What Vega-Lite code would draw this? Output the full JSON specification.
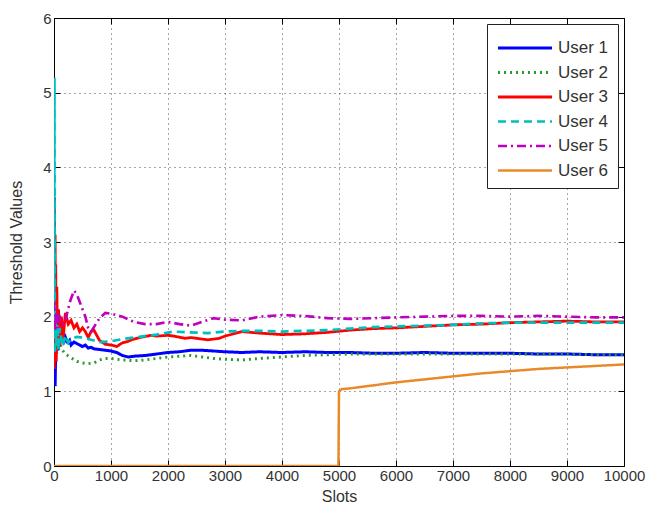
{
  "$schema": "https://vega.github.io/schema/vega-lite/v6.json",
  "width": 570,
  "height": 448,
  "autosize": "none",
  "padding": {"left": 54, "top": 18, "right": 22, "bottom": 50},
  "background": "white",
  "config": {
    "font": "Liberation Sans",
    "view": {"stroke": "black", "strokeWidth": 1},
    "axis": {"labelFont": "Liberation Sans", "titleFont": "Liberation Sans", "labelFontSize": 15, "titleFontSize": 16, "titleFontWeight": "normal", "labelColor": "#333", "titleColor": "#333", "domainColor": "black", "tickColor": "black", "gridColor": "#222", "gridDash": [1, 4], "gridOpacity": 0.8, "tickSize": -6}
  },
  "data": {"values": [
    {"u":"User 1","x":0,"y":1.3},{"u":"User 1","x":10,"y":1.9},{"u":"User 1","x":20,"y":1.07},{"u":"User 1","x":30,"y":1.6},{"u":"User 1","x":40,"y":1.5},{"u":"User 1","x":50,"y":2.0},{"u":"User 1","x":60,"y":1.8},{"u":"User 1","x":70,"y":1.55},{"u":"User 1","x":80,"y":1.6},{"u":"User 1","x":90,"y":1.85},{"u":"User 1","x":100,"y":1.9},{"u":"User 1","x":115,"y":1.75},{"u":"User 1","x":130,"y":1.7},{"u":"User 1","x":145,"y":1.8},{"u":"User 1","x":160,"y":1.76},{"u":"User 1","x":180,"y":1.68},{"u":"User 1","x":200,"y":1.72},{"u":"User 1","x":225,"y":1.66},{"u":"User 1","x":250,"y":1.65},{"u":"User 1","x":275,"y":1.68},{"u":"User 1","x":300,"y":1.62},{"u":"User 1","x":350,"y":1.66},{"u":"User 1","x":400,"y":1.64},{"u":"User 1","x":450,"y":1.62},{"u":"User 1","x":500,"y":1.6},{"u":"User 1","x":550,"y":1.62},{"u":"User 1","x":600,"y":1.58},{"u":"User 1","x":650,"y":1.59},{"u":"User 1","x":700,"y":1.57},{"u":"User 1","x":800,"y":1.56},{"u":"User 1","x":900,"y":1.55},{"u":"User 1","x":1000,"y":1.54},{"u":"User 1","x":1100,"y":1.52},{"u":"User 1","x":1200,"y":1.48},{"u":"User 1","x":1300,"y":1.46},{"u":"User 1","x":1400,"y":1.47},{"u":"User 1","x":1600,"y":1.48},{"u":"User 1","x":1800,"y":1.5},{"u":"User 1","x":2000,"y":1.52},{"u":"User 1","x":2200,"y":1.53},{"u":"User 1","x":2400,"y":1.55},{"u":"User 1","x":2600,"y":1.55},{"u":"User 1","x":2800,"y":1.54},{"u":"User 1","x":3000,"y":1.53},{"u":"User 1","x":3300,"y":1.52},{"u":"User 1","x":3600,"y":1.53},{"u":"User 1","x":4000,"y":1.52},{"u":"User 1","x":4400,"y":1.53},{"u":"User 1","x":4800,"y":1.52},{"u":"User 1","x":5200,"y":1.52},{"u":"User 1","x":5600,"y":1.51},{"u":"User 1","x":6000,"y":1.51},{"u":"User 1","x":6500,"y":1.52},{"u":"User 1","x":7000,"y":1.51},{"u":"User 1","x":7500,"y":1.51},{"u":"User 1","x":8000,"y":1.51},{"u":"User 1","x":8500,"y":1.5},{"u":"User 1","x":9000,"y":1.5},{"u":"User 1","x":9500,"y":1.49},{"u":"User 1","x":10000,"y":1.49},
    {"u":"User 2","x":0,"y":1.5},{"u":"User 2","x":15,"y":1.9},{"u":"User 2","x":30,"y":1.75},{"u":"User 2","x":45,"y":1.5},{"u":"User 2","x":60,"y":1.6},{"u":"User 2","x":80,"y":1.72},{"u":"User 2","x":100,"y":1.65},{"u":"User 2","x":150,"y":1.55},{"u":"User 2","x":200,"y":1.5},{"u":"User 2","x":300,"y":1.45},{"u":"User 2","x":400,"y":1.4},{"u":"User 2","x":500,"y":1.38},{"u":"User 2","x":600,"y":1.37},{"u":"User 2","x":700,"y":1.38},{"u":"User 2","x":800,"y":1.42},{"u":"User 2","x":900,"y":1.44},{"u":"User 2","x":1000,"y":1.44},{"u":"User 2","x":1200,"y":1.42},{"u":"User 2","x":1400,"y":1.41},{"u":"User 2","x":1600,"y":1.42},{"u":"User 2","x":1800,"y":1.44},{"u":"User 2","x":2000,"y":1.46},{"u":"User 2","x":2200,"y":1.47},{"u":"User 2","x":2400,"y":1.48},{"u":"User 2","x":2600,"y":1.46},{"u":"User 2","x":2800,"y":1.44},{"u":"User 2","x":3000,"y":1.43},{"u":"User 2","x":3300,"y":1.42},{"u":"User 2","x":3600,"y":1.44},{"u":"User 2","x":4000,"y":1.46},{"u":"User 2","x":4400,"y":1.48},{"u":"User 2","x":4800,"y":1.49},{"u":"User 2","x":5200,"y":1.5},{"u":"User 2","x":5600,"y":1.5},{"u":"User 2","x":6000,"y":1.5},{"u":"User 2","x":6500,"y":1.5},{"u":"User 2","x":7000,"y":1.5},{"u":"User 2","x":7500,"y":1.5},{"u":"User 2","x":8000,"y":1.5},{"u":"User 2","x":8500,"y":1.5},{"u":"User 2","x":9000,"y":1.5},{"u":"User 2","x":9500,"y":1.49},{"u":"User 2","x":10000,"y":1.49},
    {"u":"User 3","x":0,"y":2.0},{"u":"User 3","x":5,"y":1.3},{"u":"User 3","x":10,"y":3.6},{"u":"User 3","x":15,"y":1.4},{"u":"User 3","x":20,"y":3.1},{"u":"User 3","x":25,"y":1.5},{"u":"User 3","x":30,"y":2.7},{"u":"User 3","x":40,"y":1.4},{"u":"User 3","x":50,"y":2.4},{"u":"User 3","x":60,"y":1.6},{"u":"User 3","x":80,"y":2.1},{"u":"User 3","x":100,"y":1.6},{"u":"User 3","x":130,"y":2.0},{"u":"User 3","x":160,"y":1.7},{"u":"User 3","x":200,"y":2.05},{"u":"User 3","x":250,"y":1.9},{"u":"User 3","x":300,"y":1.95},{"u":"User 3","x":350,"y":1.85},{"u":"User 3","x":400,"y":1.9},{"u":"User 3","x":450,"y":1.8},{"u":"User 3","x":500,"y":1.85},{"u":"User 3","x":550,"y":1.8},{"u":"User 3","x":600,"y":1.72},{"u":"User 3","x":650,"y":1.8},{"u":"User 3","x":700,"y":1.82},{"u":"User 3","x":750,"y":1.75},{"u":"User 3","x":800,"y":1.68},{"u":"User 3","x":900,"y":1.63},{"u":"User 3","x":1000,"y":1.62},{"u":"User 3","x":1100,"y":1.6},{"u":"User 3","x":1200,"y":1.65},{"u":"User 3","x":1300,"y":1.67},{"u":"User 3","x":1400,"y":1.7},{"u":"User 3","x":1500,"y":1.72},{"u":"User 3","x":1700,"y":1.75},{"u":"User 3","x":1800,"y":1.74},{"u":"User 3","x":2000,"y":1.75},{"u":"User 3","x":2100,"y":1.74},{"u":"User 3","x":2300,"y":1.71},{"u":"User 3","x":2400,"y":1.72},{"u":"User 3","x":2600,"y":1.7},{"u":"User 3","x":2700,"y":1.69},{"u":"User 3","x":2900,"y":1.71},{"u":"User 3","x":3000,"y":1.74},{"u":"User 3","x":3300,"y":1.8},{"u":"User 3","x":3600,"y":1.78},{"u":"User 3","x":4000,"y":1.76},{"u":"User 3","x":4400,"y":1.77},{"u":"User 3","x":4800,"y":1.79},{"u":"User 3","x":5200,"y":1.82},{"u":"User 3","x":5600,"y":1.84},{"u":"User 3","x":6000,"y":1.85},{"u":"User 3","x":6500,"y":1.87},{"u":"User 3","x":7000,"y":1.89},{"u":"User 3","x":7500,"y":1.9},{"u":"User 3","x":8000,"y":1.92},{"u":"User 3","x":8500,"y":1.93},{"u":"User 3","x":9000,"y":1.94},{"u":"User 3","x":9500,"y":1.93},{"u":"User 3","x":10000,"y":1.93},
    {"u":"User 4","x":0,"y":1.8},{"u":"User 4","x":8,"y":5.2},{"u":"User 4","x":15,"y":1.5},{"u":"User 4","x":25,"y":2.0},{"u":"User 4","x":40,"y":1.6},{"u":"User 4","x":60,"y":1.9},{"u":"User 4","x":80,"y":1.55},{"u":"User 4","x":100,"y":1.85},{"u":"User 4","x":150,"y":1.6},{"u":"User 4","x":200,"y":1.75},{"u":"User 4","x":250,"y":1.65},{"u":"User 4","x":300,"y":1.7},{"u":"User 4","x":400,"y":1.73},{"u":"User 4","x":500,"y":1.72},{"u":"User 4","x":600,"y":1.7},{"u":"User 4","x":700,"y":1.68},{"u":"User 4","x":800,"y":1.66},{"u":"User 4","x":1000,"y":1.67},{"u":"User 4","x":1200,"y":1.7},{"u":"User 4","x":1500,"y":1.73},{"u":"User 4","x":1800,"y":1.76},{"u":"User 4","x":2100,"y":1.8},{"u":"User 4","x":2400,"y":1.79},{"u":"User 4","x":2700,"y":1.78},{"u":"User 4","x":3000,"y":1.8},{"u":"User 4","x":3300,"y":1.81},{"u":"User 4","x":3600,"y":1.81},{"u":"User 4","x":4000,"y":1.8},{"u":"User 4","x":4400,"y":1.81},{"u":"User 4","x":4800,"y":1.82},{"u":"User 4","x":5200,"y":1.84},{"u":"User 4","x":5600,"y":1.86},{"u":"User 4","x":6000,"y":1.87},{"u":"User 4","x":6500,"y":1.88},{"u":"User 4","x":7000,"y":1.89},{"u":"User 4","x":7500,"y":1.91},{"u":"User 4","x":8000,"y":1.92},{"u":"User 4","x":8500,"y":1.92},{"u":"User 4","x":9000,"y":1.92},{"u":"User 4","x":9500,"y":1.92},{"u":"User 4","x":10000,"y":1.92},
    {"u":"User 5","x":0,"y":2.2},{"u":"User 5","x":20,"y":1.8},{"u":"User 5","x":40,"y":2.1},{"u":"User 5","x":60,"y":1.85},{"u":"User 5","x":100,"y":2.0},{"u":"User 5","x":150,"y":1.9},{"u":"User 5","x":200,"y":1.95},{"u":"User 5","x":280,"y":2.2},{"u":"User 5","x":350,"y":2.35},{"u":"User 5","x":400,"y":2.3},{"u":"User 5","x":450,"y":2.2},{"u":"User 5","x":500,"y":2.1},{"u":"User 5","x":550,"y":2.0},{"u":"User 5","x":600,"y":1.85},{"u":"User 5","x":650,"y":1.8},{"u":"User 5","x":700,"y":1.86},{"u":"User 5","x":800,"y":1.98},{"u":"User 5","x":900,"y":2.05},{"u":"User 5","x":1000,"y":2.04},{"u":"User 5","x":1200,"y":2.0},{"u":"User 5","x":1400,"y":1.93},{"u":"User 5","x":1600,"y":1.9},{"u":"User 5","x":1800,"y":1.9},{"u":"User 5","x":2000,"y":1.93},{"u":"User 5","x":2200,"y":1.9},{"u":"User 5","x":2400,"y":1.88},{"u":"User 5","x":2600,"y":1.93},{"u":"User 5","x":2800,"y":1.98},{"u":"User 5","x":3000,"y":1.96},{"u":"User 5","x":3300,"y":1.95},{"u":"User 5","x":3600,"y":2.0},{"u":"User 5","x":4000,"y":2.02},{"u":"User 5","x":4400,"y":2.01},{"u":"User 5","x":4800,"y":1.98},{"u":"User 5","x":5200,"y":1.97},{"u":"User 5","x":5600,"y":1.98},{"u":"User 5","x":6000,"y":1.99},{"u":"User 5","x":6500,"y":2.0},{"u":"User 5","x":7000,"y":2.01},{"u":"User 5","x":7500,"y":2.01},{"u":"User 5","x":8000,"y":2.0},{"u":"User 5","x":8500,"y":2.01},{"u":"User 5","x":9000,"y":2.0},{"u":"User 5","x":9500,"y":1.99},{"u":"User 5","x":10000,"y":1.99},
    {"u":"User 6","x":0,"y":0},{"u":"User 6","x":4990,"y":0},{"u":"User 6","x":5000,"y":1.0},{"u":"User 6","x":5050,"y":1.03},{"u":"User 6","x":5200,"y":1.04},{"u":"User 6","x":5500,"y":1.07},{"u":"User 6","x":6000,"y":1.12},{"u":"User 6","x":6500,"y":1.16},{"u":"User 6","x":7000,"y":1.2},{"u":"User 6","x":7500,"y":1.24},{"u":"User 6","x":8000,"y":1.27},{"u":"User 6","x":8500,"y":1.3},{"u":"User 6","x":9000,"y":1.32},{"u":"User 6","x":9500,"y":1.34},{"u":"User 6","x":10000,"y":1.36}
  ]},
  "resolve": {"scale": {"x": "independent", "y": "independent"}},
  "layer": [
    {
      "mark": {"type": "line", "clip": true},
      "encoding": {
        "x": {"field": "x", "type": "quantitative", "scale": {"domain": [0, 10000], "nice": false}, "axis": {"title": "Slots", "values": [0,1000,2000,3000,4000,5000,6000,7000,8000,9000,10000], "format": "d", "labelPadding": 8, "titlePadding": 5, "labelFlush": false}},
        "y": {"field": "y", "type": "quantitative", "scale": {"domain": [0, 6], "nice": false}, "axis": {"title": "Threshold Values", "values": [0,1,2,3,4,5,6], "labelPadding": 9, "titlePadding": 18, "labelFlush": false}},
        "color": {"field": "u", "type": "nominal", "scale": {"domain": ["User 1","User 2","User 3","User 4","User 5","User 6"], "range": ["#0000ff","#2a9a2a","#ff0000","#00bfbf","#bf00bf","#e98a2a"]},
          "legend": {"title": null, "orient": "top-right", "offset": 6, "strokeColor": "#222", "fillColor": "white", "padding": 9, "symbolType": "M-2,0H2", "symbolSize": 729, "symbolOffset": 14, "symbolStrokeWidth": 2.5, "labelFontSize": 17, "labelColor": "#333", "rowPadding": 1.5, "labelOffset": 18, "labelFont": "Liberation Sans"}},
        "strokeDash": {"field": "u", "type": "nominal", "scale": {"domain": ["User 1","User 2","User 3","User 4","User 5","User 6"], "range": [[1,0],[2,4],[1,0],[8,5],[9,4,2,4],[1,0]]}},
        "strokeWidth": {"field": "u", "type": "nominal", "scale": {"domain": ["User 1","User 2","User 3","User 4","User 5","User 6"], "range": [3,2.5,4.5,2.5,2.5,4]}, "legend": null}
      }
    },
    {
      "mark": {"type": "line", "opacity": 0},
      "encoding": {
        "x": {"field": "x", "type": "quantitative", "scale": {"domain": [0, 10000], "nice": false}, "axis": {"orient": "top", "title": null, "labels": false, "grid": false, "values": [0,1000,2000,3000,4000,5000,6000,7000,8000,9000,10000]}},
        "y": {"field": "y", "type": "quantitative", "scale": {"domain": [0, 6], "nice": false}, "axis": {"orient": "right", "title": null, "labels": false, "grid": false, "values": [0,1,2,3,4,5,6]}},
        "detail": {"field": "u", "type": "nominal"}
      }
    }
  ]
}
